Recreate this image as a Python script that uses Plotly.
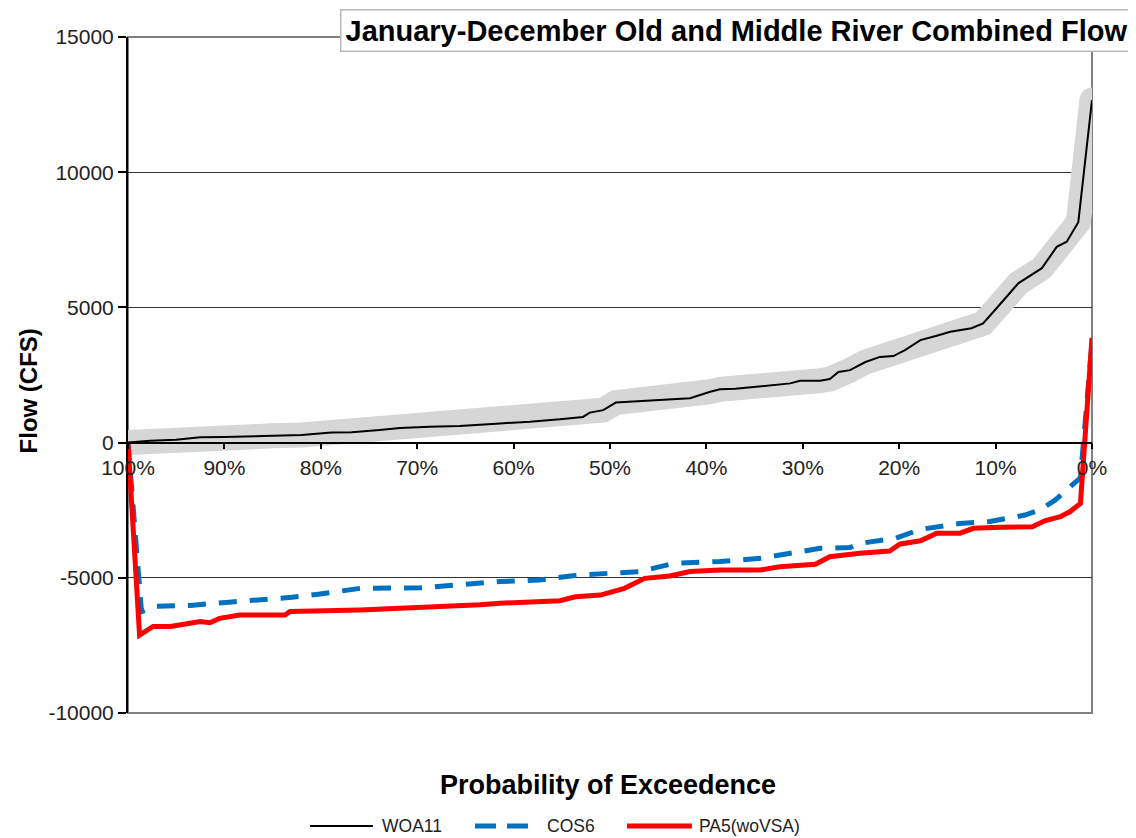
import plotly.graph_objects as go

# ---- Data (exceedance probability in %, flow in cfs) ----
woa11_pct = [100, 97.7, 95, 92.5, 90, 87.3, 85, 82, 78.9, 76.8, 73.9, 71.8, 68.7, 65.6,
             61.4, 58.3, 55.2, 53.1, 52.8, 52.1, 50.7, 49.4, 45.9, 44.3, 41.7, 39.6, 38.6,
             37, 34.4, 32.4, 31.3, 30.3, 28.2, 27.2, 26.3, 25.1, 23.5, 22, 20.6, 19.4, 17.8,
             16.2, 14.7, 12.5, 11.3, 9.9, 7.65, 5.2, 3.66, 2.62, 1.42, 0]
woa11_flow = [0, 70, 110, 200, 210, 240, 250, 280, 370, 380, 470, 540, 590, 610,
              710, 770, 860, 930, 950, 1110, 1200, 1480, 1550, 1580, 1640, 1880, 1970,
              1990, 2090, 2170, 2190, 2290, 2290, 2350, 2610, 2680, 2980, 3170, 3200, 3420, 3790,
              3940, 4100, 4230, 4410, 4970, 5890, 6450, 7240, 7430, 8150, 12670]

cos6_pct = [100, 98.6, 97.2, 93.5, 89.5, 86.5, 83, 80.1, 75.9, 69.7, 66.6, 61.4, 57.3,
            54.1, 50, 46.9, 43.3, 38.6, 34.4, 31.3, 28.2, 25.1, 24.1, 20.4, 17.8, 13.7,
            10.6, 6.95, 5.4, 3.8, 2.5, 1.2, 0]
cos6_flow = [0, -6250, -6050, -6020, -5900, -5820, -5720, -5600, -5390, -5370, -5270, -5140, -5080,
             -4930, -4830, -4770, -4460, -4400, -4280, -4090, -3910, -3880, -3730, -3540, -3210, -2990,
             -2920, -2680, -2490, -2120, -1690, -1300, 3700]

pa5_pct = [100, 98.8, 97.4, 95.6, 92.5, 91.5, 90.5, 88.4, 83.7, 83.2, 75.9, 71.8, 66.6,
           63.5, 61.4, 55.2, 53.6, 51, 48.5, 46.4, 43.8, 41.7, 38.6, 34.4, 32.4, 28.7, 27.2,
           24.1, 21, 19.9, 17.8, 16.1, 13.7, 12.3, 9.5, 6.2, 4.9, 3.3, 2.3, 1.2, 0]
pa5_flow = [0, -7120, -6800, -6800, -6620, -6660, -6500, -6380, -6380, -6250, -6190, -6130, -6070,
            -6000, -5940, -5850, -5700, -5640, -5390, -5020, -4930, -4770, -4710, -4710, -4590, -4500, -4220,
            -4090, -4010, -3750, -3630, -3350, -3350, -3170, -3130, -3110, -2890, -2740, -2560, -2250, 3870]

series_names = ["WOA11", "COS6", "PA5(woVSA)"]
x_ticks = [100, 90, 80, 70, 60, 50, 40, 30, 20, 10, 0]
x_tick_labels = ["100%", "90%", "80%", "70%", "60%", "50%", "40%", "30%", "20%", "10%", "0%"]
y_ticks = [15000, 10000, 5000, 0, -5000, -10000]
y_tick_labels = ["15000", "10000", "5000", "0", "-5000", "-10000"]

FONT = "Arial, 'Liberation Sans', sans-serif"
BAND = "#d6d6d6"
BLUE = "#0070C0"
RED = "#FF0000"

fig = go.Figure()

# gray highlight band behind WOA11
fig.add_trace(go.Scatter(x=woa11_pct, y=woa11_flow, mode="lines",
                         line=dict(color=BAND, width=25),
                         showlegend=False, hoverinfo="skip"))
fig.add_trace(go.Scatter(x=woa11_pct[-1:], y=woa11_flow[-1:], mode="markers",
                         marker=dict(color=BAND, size=25, line=dict(width=0)),
                         showlegend=False, hoverinfo="skip"))
fig.add_trace(go.Scatter(x=woa11_pct, y=woa11_flow, mode="lines", name=series_names[0],
                         line=dict(color="black", width=2), showlegend=False))
fig.add_trace(go.Scatter(x=cos6_pct, y=cos6_flow, mode="lines", name=series_names[1],
                         line=dict(color=BLUE, width=5, dash="18px,13px"), showlegend=False))
fig.add_trace(go.Scatter(x=pa5_pct, y=pa5_flow, mode="lines", name=series_names[2],
                         line=dict(color=RED, width=5), showlegend=False))

# manual legend (paper coordinates, below the plot)
LEG_Y = -0.1672
legend_items = [
    (0.1888, 0.2541, dict(color="black", width=2), 0.2614, series_names[0]),
    (0.3600, 0.4149, dict(color=BLUE, width=5, dash="21px,11px"), 0.4326, series_names[1]),
    (0.5176, 0.5850, dict(color=RED, width=5), 0.5903, series_names[2]),
]
shapes = [dict(type="rect", xref="paper", yref="paper", x0=0, x1=1, y0=0, y1=1,
               line=dict(color="#808080", width=2), layer="below")]
annotations = []
for x0, x1, ln, tx, name in legend_items:
    shapes.append(dict(type="line", xref="paper", yref="paper", x0=x0, x1=x1,
                       y0=LEG_Y, y1=LEG_Y, line=ln))
    annotations.append(dict(text=name, xref="paper", yref="paper", x=tx, y=LEG_Y,
                            xanchor="left", yanchor="middle", showarrow=False,
                            font=dict(size=17.5, color="#222222", family=FONT)))

annotations += [
    dict(text="<b>January-December Old and Middle River Combined Flow</b>",
         xref="paper", yref="paper", x=1.0425, y=1.0089, xanchor="right", yanchor="middle",
         showarrow=False, font=dict(size=29, color="black", family=FONT),
         bgcolor="white", bordercolor="#b8b8b8", borderwidth=1.5, borderpad=4),
    dict(text="<b>Flow (CFS)</b>", xref="paper", yref="paper", x=-0.1035, y=0.476,
         textangle=-90, showarrow=False, xanchor="center", yanchor="middle",
         font=dict(size=24, color="black", family=FONT)),
    dict(text="<b>Probability of Exceedence</b>", xref="paper", yref="paper",
         x=0.498, y=-0.1065, showarrow=False, xanchor="center", yanchor="middle",
         font=dict(size=27, color="black", family=FONT)),
]

fig.update_layout(
    width=1136, height=838,
    margin=dict(l=120, r=52, t=29, b=133, autoexpand=False),
    paper_bgcolor="white", plot_bgcolor="white",
    font=dict(family=FONT, size=21, color="#222222"),
    showlegend=False,
    xaxis=dict(range=[100, 0], tickvals=x_ticks, ticktext=x_tick_labels,
               showgrid=False, zeroline=False, showline=True, linecolor="black", linewidth=1.5,
               ticks="outside", ticklen=6, tickcolor="black", tickwidth=1.5,
               anchor="free", position=0.4, tickfont=dict(size=21, color="#222222")),
    yaxis=dict(range=[-10000, 15000], tickvals=y_ticks, ticktext=y_tick_labels,
               showgrid=True, gridcolor="#333333", gridwidth=1, zeroline=False,
               showline=True, linecolor="black", linewidth=2,
               ticks="outside", ticklen=8, tickcolor="black", tickwidth=1.5,
               tickfont=dict(size=21, color="#222222")),
    shapes=shapes,
    annotations=annotations,
)

fig.write_html("out.html")
